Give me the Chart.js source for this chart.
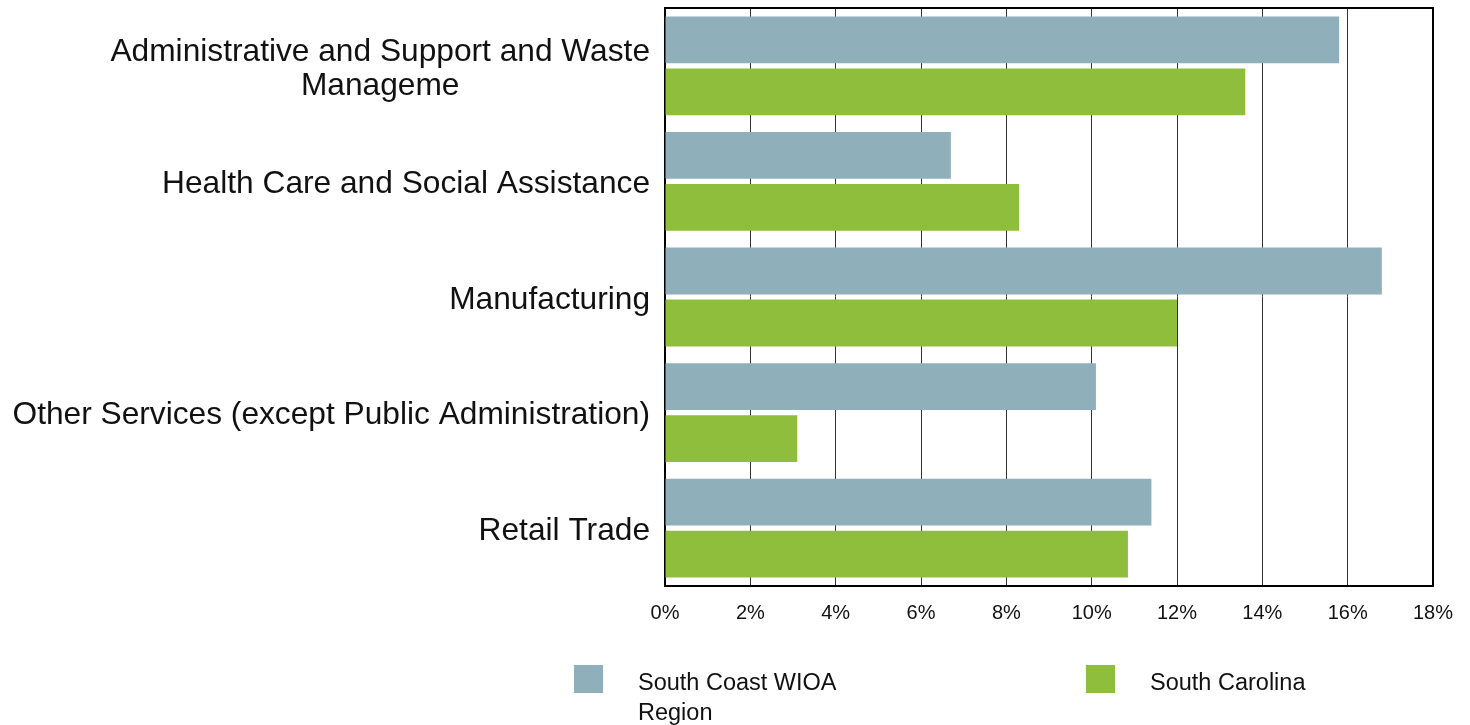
<!DOCTYPE html>
<html>
<head>
<meta charset="utf-8">
<script src="https://cdn.jsdelivr.net/npm/chart.js@4"></script>
<style>
  body { margin: 0; background: #fff; font-family: "Liberation Sans", Arial, sans-serif; }
  #wrap { position: relative; width: 1470px; height: 725px; }
  .legend { position: absolute; font-size: 23.5px; line-height: 30px; color: #111; }
  .swatch { position: absolute; width: 29px; height: 28px; }
</style>
</head>
<body>
<div id="wrap">
  <canvas id="chart" width="1470" height="725"></canvas>
  <div class="swatch" style="left:574px; top:665px; background:#8FAFBA;"></div>
  <div class="legend" style="left:638px; top:667px;">South Coast WIOA<br>Region</div>
  <div class="swatch" style="left:1086px; top:665px; background:#8FBD3C;"></div>
  <div class="legend" style="left:1150px; top:667px;">South Carolina</div>
</div>
<script>
// categories (multi-line labels as arrays)
const categories = [
  ['Administrative and Support and Waste', 'Manageme'],
  ['Health Care and Social Assistance'],
  ['Manufacturing'],
  ['Other Services (except Public Administration)'],
  ['Retail Trade']
];

// share of employment, percent
const southCoast = [15.8, 6.7, 16.8, 10.1, 11.4];
const southCarolina = [13.6, 8.3, 12.0, 3.1, 10.85];

const xMin = 0;
const xMax = 18;
const xStep = 2;

// draws the frame on top and right, plus the category labels
const framePlugin = {
  id: 'frame',
  afterDraw(chart) {
    const { ctx, chartArea } = chart;
    ctx.save();
    ctx.strokeStyle = '#000';
    ctx.lineWidth = 2;
    ctx.beginPath();
    ctx.moveTo(chartArea.left, chartArea.top);
    ctx.lineTo(chartArea.right, chartArea.top);
    ctx.lineTo(chartArea.right, chartArea.bottom);
    ctx.stroke();

    // category labels: block right-aligned, lines centred in the block
    const y = chart.scales.y;
    ctx.font = '31.7px "Liberation Sans", Arial, sans-serif';
    ctx.fillStyle = '#111';
    ctx.textBaseline = 'middle';
    ctx.textAlign = 'center';
    const lineH = 34;
    const right = chartArea.left - 15;
    categories.forEach((lines, i) => {
      const cy = y.getPixelForValue(i) + 3;
      const w = Math.max(...lines.map(l => ctx.measureText(l).width));
      const cx = right - w / 2;
      const top = cy - (lines.length - 1) * lineH / 2;
      lines.forEach((l, j) => ctx.fillText(l, cx, top + j * lineH));
    });
    ctx.restore();
  }
};

new Chart(document.getElementById('chart'), {
  type: 'bar',
  data: {
    labels: categories,
    datasets: [
      {
        label: 'South Coast WIOA Region',
        data: southCoast,
        backgroundColor: '#8FAFBA',
        categoryPercentage: 0.9,
        barPercentage: 0.9
      },
      {
        label: 'South Carolina',
        data: southCarolina,
        backgroundColor: '#8FBD3C',
        categoryPercentage: 0.9,
        barPercentage: 0.9
      }
    ]
  },
  options: {
    indexAxis: 'y',
    responsive: false,
    animation: false,
    layout: { padding: { top: 8, right: 37, bottom: 0, left: 0 } },
    plugins: {
      legend: { display: false },
      tooltip: { enabled: false }
    },
    scales: {
      x: {
        min: xMin,
        max: xMax,
        ticks: {
          stepSize: xStep,
          padding: 15,
          color: '#111',
          font: { size: 20, family: '"Liberation Sans", Arial, sans-serif' },
          callback: v => v + '%'
        },
        grid: { color: '#333', lineWidth: 1, drawTicks: false },
        border: { color: '#000', width: 2 },
        afterFit(scale) { scale.height = 725 - 586; }
      },
      y: {
        ticks: { display: false },
        grid: { display: false },
        border: { color: '#000', width: 2 },
        afterFit(scale) { scale.width = 665; }
      }
    }
  },
  plugins: [framePlugin]
});
</script>
</body>
</html>
